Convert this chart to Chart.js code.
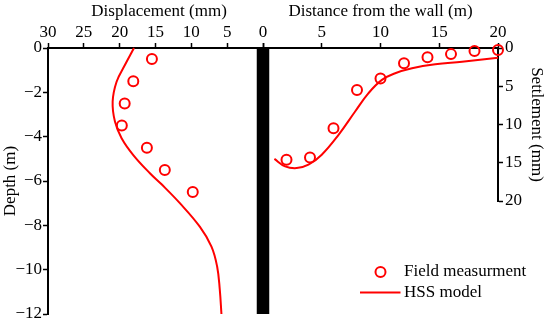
<!DOCTYPE html>
<html>
<head>
<meta charset="utf-8">
<script src="https://cdn.jsdelivr.net/npm/chart.js@4.4.1/dist/chart.umd.min.js"></script>
<style>
  html, body { margin: 0; padding: 0; background: #fff; }
  #wrap { position: relative; width: 550px; height: 327px; }
  #wrap canvas { position: absolute; left: 0; top: 0; }
</style>
</head>
<body>
<div id="wrap">
  <canvas id="leftChart" width="550" height="327"></canvas>
  <canvas id="rightChart" width="550" height="327"></canvas>
</div>
<script>
// left panel: horizontal displacement of the wall vs depth
const depthField = [-0.5, -1.5, -2.5, -3.5, -4.5, -5.5, -6.5];
const dispField = [15.5, 18.1, 19.3, 19.7, 16.2, 13.7, 9.8];
const depthModel = [0, -0.77, -1.52, -2.42, -3.32, -4.07, -4.83, -5.65, -6.15, -7.0, -8.06, -8.96, -9.86, -10.9, -12];
const dispModel = [18.0, 19.27, 20.43, 20.98, 20.66, 19.73, 18.1, 15.78, 14.15, 11.6, 8.82, 7.19, 6.4, 6.03, 5.8];
const wallDisp = [0, 0];
const wallDepth = [0, -12];
const dispTicks = [30, 25, 20, 15, 10, 5, 0];

// right panel: ground settlement behind the wall
const distField = [2, 4, 6, 8, 10, 12, 14, 16, 18, 20];
const settleField = [14.6, 14.3, 10.5, 5.5, 4.0, 2.0, 1.2, 0.8, 0.4, 0.25];
const distModel = [0.97, 1.88, 2.87, 3.87, 5.0, 6.43, 7.84, 8.98, 10.12, 11.25, 12.68, 14.66, 16.94, 20];
const settleModel = [14.5, 15.47, 15.7, 15.26, 13.95, 11.35, 8.3, 5.9, 4.17, 3.3, 2.65, 2.13, 1.79, 1.26];

const fieldLabel = "Field measurment";
const modelLabel = "HSS model";

const RED = "#ff0000";
const FONT_FAMILY = "'Liberation Serif', 'Times New Roman', serif";
const font = { family: FONT_FAMILY, size: 17 };
Chart.defaults.font = font;
Chart.defaults.color = "#000";

function toPoints(xs, ys) {
  return xs.map((x, i) => ({ x: x, y: ys[i] }));
}

function minus(v) {
  return v < 0 ? "\u2212" + Math.abs(v) : "" + v;
}

const axisGrid = { display: true, drawOnChartArea: false, drawTicks: true, tickLength: 5, tickWidth: 1.5, tickColor: "#000" };
const axisBorder = { display: true, color: "#000", width: 2 };

const leftChart = new Chart(document.getElementById("leftChart"), {
  type: "scatter",
  data: {
    datasets: [
      {
        label: "wall",
        data: toPoints(wallDisp, wallDepth),
        showLine: true,
        borderColor: "#000",
        borderWidth: 12.5,
        borderCapStyle: "butt",
        pointRadius: 0,
        clip: false
      },
      {
        label: modelLabel,
        data: toPoints(dispModel, depthModel),
        showLine: true,
        borderColor: RED,
        borderWidth: 2,
        tension: 0.4,
        pointRadius: 0,
        clip: false
      },
      {
        label: fieldLabel,
        data: toPoints(dispField, depthField),
        borderColor: RED,
        backgroundColor: "rgba(0,0,0,0)",
        borderWidth: 2,
        pointRadius: 5,
        clip: false
      }
    ]
  },
  options: {
    responsive: false,
    animation: false,
    layout: { padding: { left: 0, top: 0, right: 279.83, bottom: 13 } },
    plugins: { legend: { display: false }, tooltip: { enabled: false } },
    scales: {
      x: {
        type: "linear",
        position: "top",
        reverse: true,
        min: -1,
        max: 30,
        afterBuildTicks: (s) => { s.ticks = dispTicks.map(v => ({ value: v })); },
        afterFit: (s) => { s.height = 48; },
        grid: axisGrid,
        border: axisBorder,
        ticks: { color: "#000", padding: 0, maxRotation: 0, autoSkip: false },
        title: { display: true, text: "Displacement (mm)", color: "#000", padding: { top: 1, bottom: 0 } }
      },
      y: {
        type: "linear",
        position: "left",
        min: -12,
        max: 0,
        afterFit: (s) => { s.width = 48; },
        grid: axisGrid,
        border: axisBorder,
        ticks: { color: "#000", stepSize: 2, padding: 1, callback: (v) => minus(v) },
        title: { display: true, text: "Depth (m)", color: "#000", padding: { top: 0, bottom: 0 } }
      }
    }
  }
});

// legend drawn in the empty space below the settlement axis
const legendPlugin = {
  id: "cornerLegend",
  afterDraw(chart) {
    const ctx = chart.ctx;
    const field = chart.data.datasets[1];
    const model = chart.data.datasets[0];
    ctx.save();
    ctx.font = "17px " + FONT_FAMILY;
    ctx.fillStyle = "#000";
    ctx.textBaseline = "middle";
    ctx.textAlign = "left";

    ctx.beginPath();
    ctx.arc(380.5, 272, 5, 0, Math.PI * 2);
    ctx.strokeStyle = field.borderColor;
    ctx.lineWidth = field.borderWidth;
    ctx.stroke();
    ctx.fillText(field.label, 404, 272);

    ctx.beginPath();
    ctx.moveTo(360, 292.5);
    ctx.lineTo(400.5, 292.5);
    ctx.strokeStyle = model.borderColor;
    ctx.lineWidth = model.borderWidth;
    ctx.stroke();
    ctx.fillText(model.label, 404, 292.5);
    ctx.restore();
  }
};

const rightChart = new Chart(document.getElementById("rightChart"), {
  type: "scatter",
  data: {
    datasets: [
      {
        label: modelLabel,
        data: toPoints(distModel, settleModel),
        showLine: true,
        borderColor: RED,
        borderWidth: 2,
        tension: 0.4,
        pointRadius: 0,
        clip: false
      },
      {
        label: fieldLabel,
        data: toPoints(distField, settleField),
        borderColor: RED,
        backgroundColor: "rgba(0,0,0,0)",
        borderWidth: 2,
        pointRadius: 5,
        clip: false
      }
    ]
  },
  plugins: [legendPlugin],
  options: {
    responsive: false,
    animation: false,
    layout: { padding: { left: 263, top: 0, right: 0, bottom: 126 } },
    plugins: { legend: { display: false }, tooltip: { enabled: false } },
    scales: {
      x: {
        type: "linear",
        position: "top",
        min: 0,
        max: 20,
        afterFit: (s) => { s.height = 48; },
        grid: axisGrid,
        border: axisBorder,
        ticks: { color: "#000", stepSize: 5, padding: 0, maxRotation: 0, autoSkip: false, callback: (v) => v === 0 ? "" : "" + v },
        title: { display: true, text: "Distance from the wall (m)", color: "#000", padding: { top: 1, bottom: 0 } }
      },
      y: {
        type: "linear",
        position: "right",
        reverse: true,
        min: 0,
        max: 20,
        afterFit: (s) => { s.width = 52; },
        grid: axisGrid,
        border: axisBorder,
        ticks: { color: "#000", stepSize: 5, padding: 2 },
        title: { display: true, text: "Settlement (mm)", color: "#000", padding: { top: 3, bottom: 0 } }
      }
    }
  }
});
</script>
</body>
</html>
